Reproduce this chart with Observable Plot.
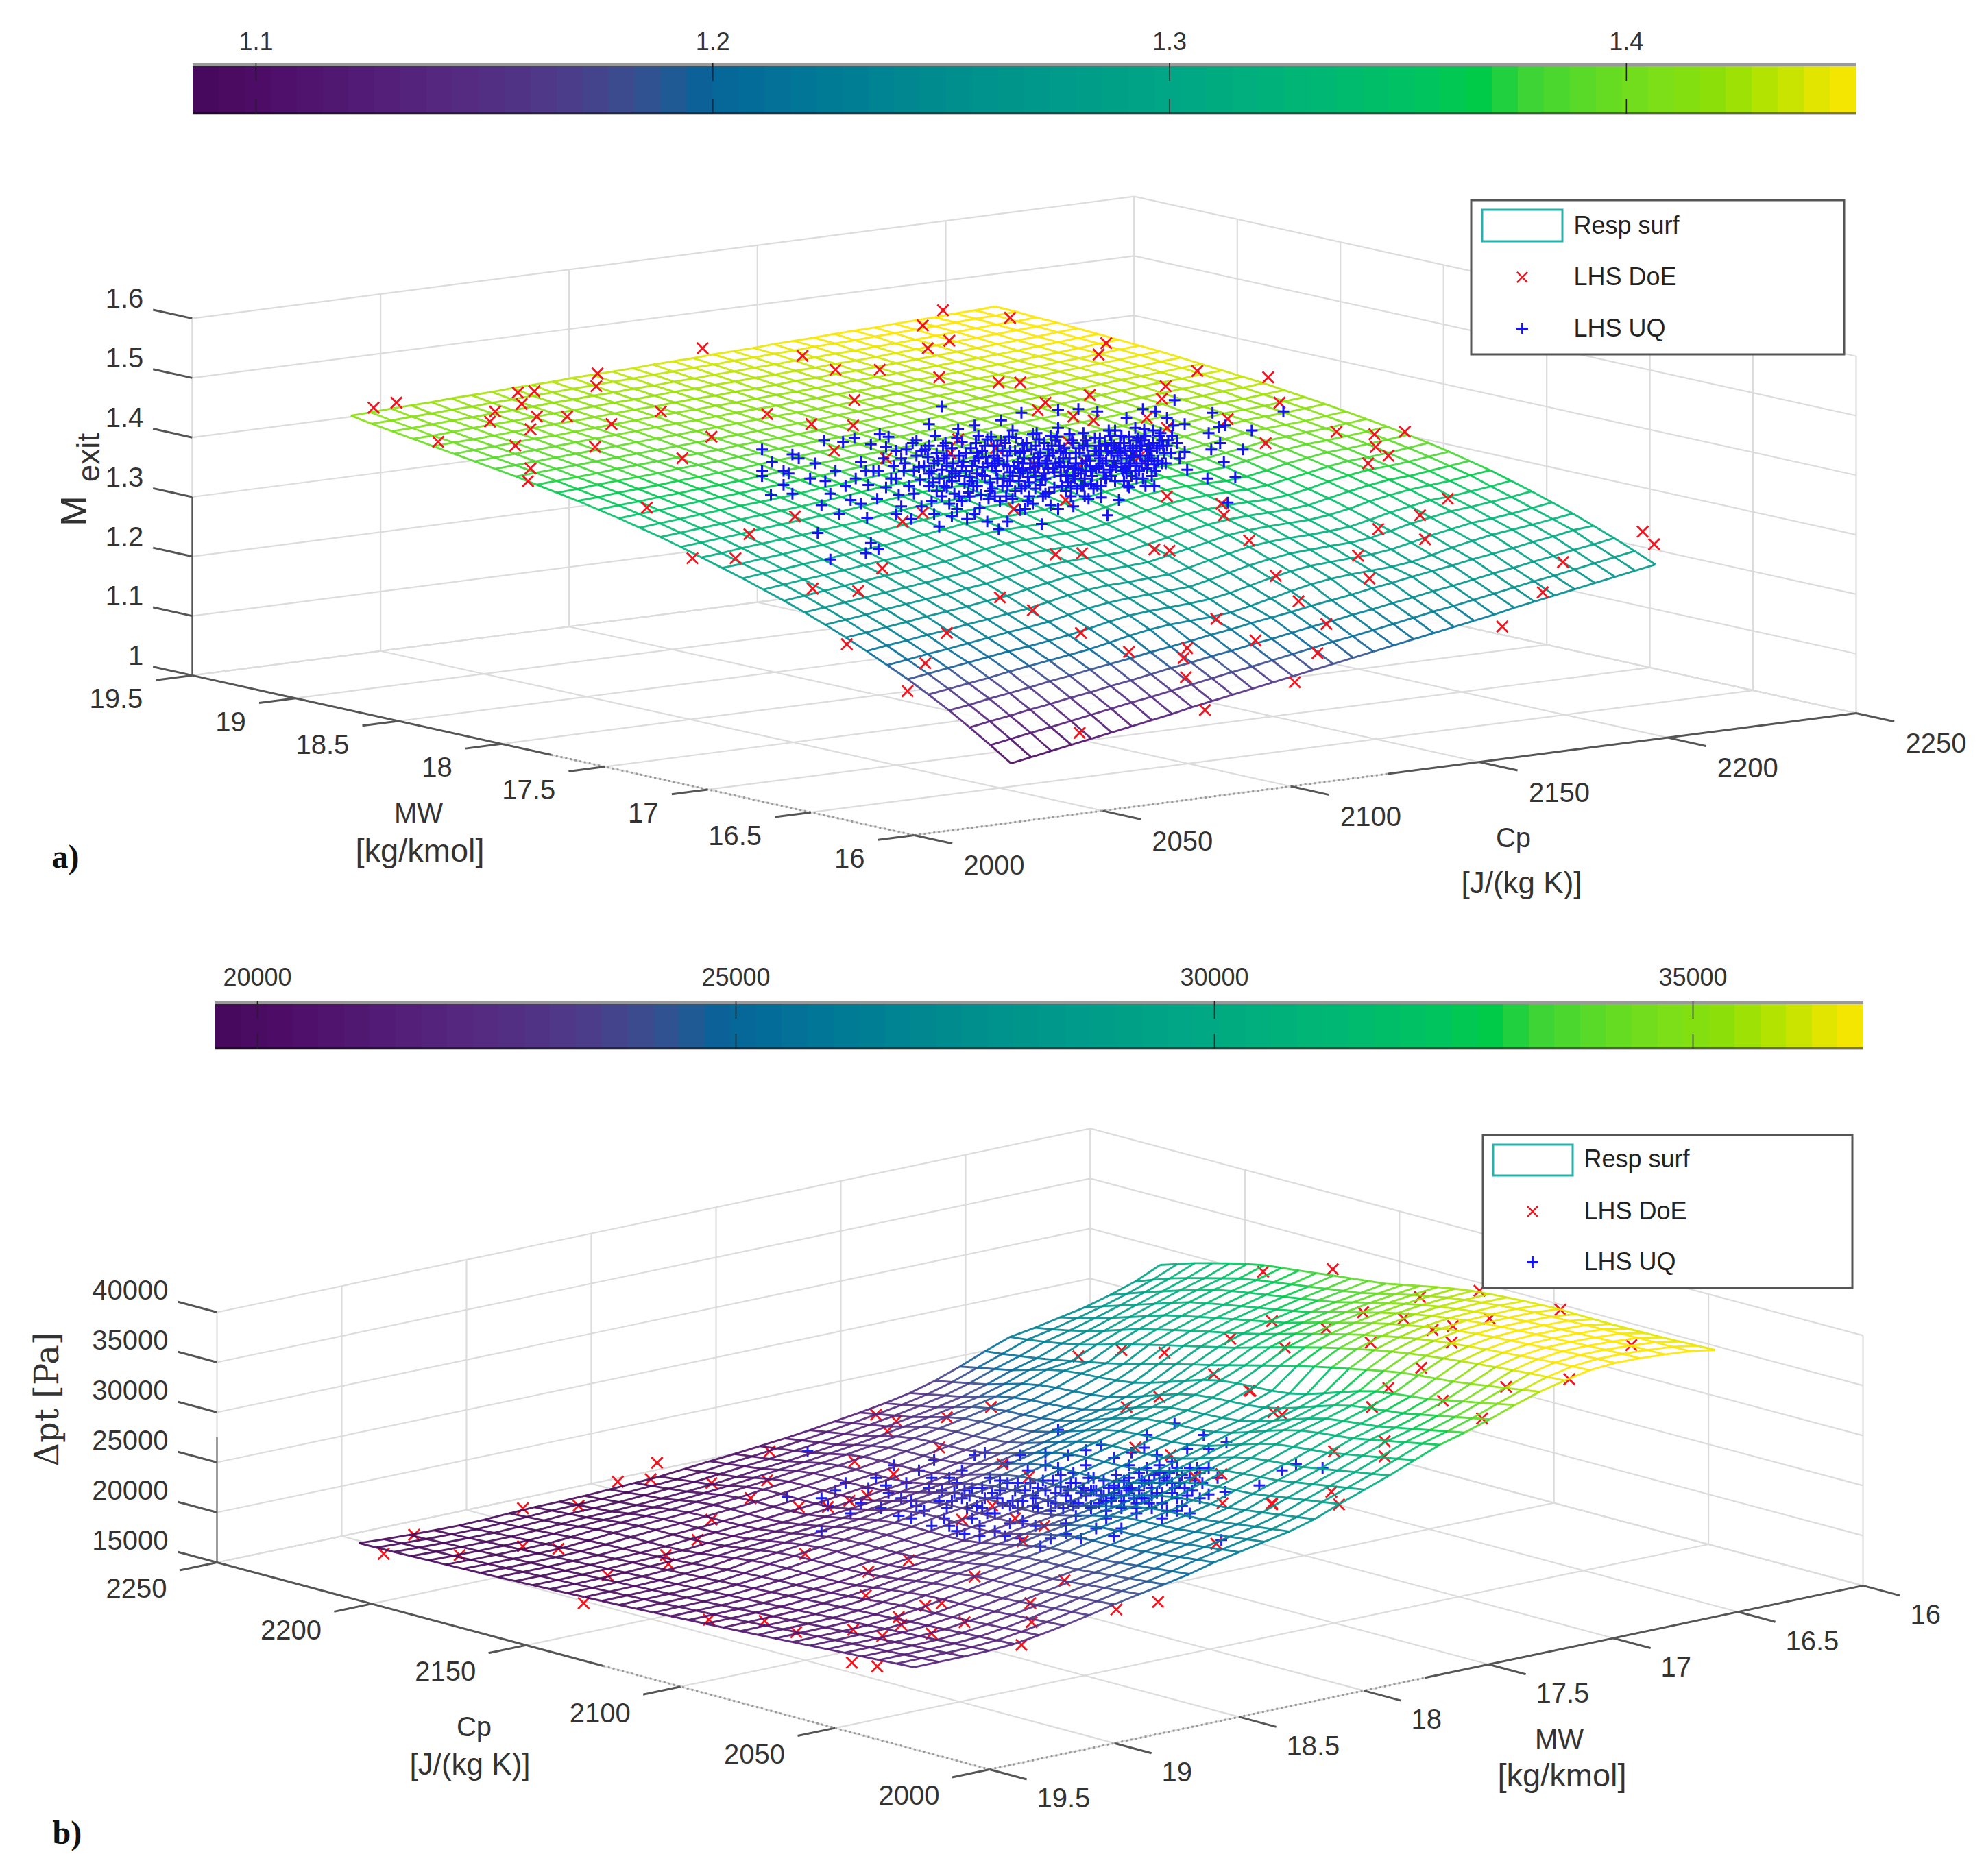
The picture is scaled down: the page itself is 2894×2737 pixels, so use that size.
<!DOCTYPE html>
<html><head><meta charset="utf-8">
<script src="https://cdn.jsdelivr.net/npm/d3@7"></script>
<script src="https://cdn.jsdelivr.net/npm/@observablehq/plot@0.6"></script>
<style>html,body{margin:0;background:#fff}svg{display:block}</style>
</head><body><div id="app"></div>
<script>
const cpTicks=[2000,2050,2100,2150,2200,2250];
const mwTicks=[16,16.5,17,17.5,18,18.5,19,19.5];
const exitTicks=[1,1.1,1.2,1.3,1.4,1.5,1.6];
const dptTicks=[15000,20000,25000,30000,35000,40000];
const exitBarTicks=[1.1,1.2,1.3,1.4];
const dptBarTicks=[20000,25000,30000,35000];
const legendNames=["Resp surf","LHS DoE","LHS UQ"];
const mapStops=[0,.05,.15,.22,.27,.31,.38,.45,.52,.6,.68,.74,.778,.797,.83,.88,.92,.95,.975,1];
const mapColors=["#46085a","#4f0f6a","#55277f","#4e3a89","#35508f","#07649a","#007a96","#008d8d","#009a8a","#00a884","#00b873","#00c45e","#00cc46","#38d33a","#55d82a","#7adf18","#90df08","#b8e400","#e0e500","#fde600"];

// Mexit x 1000, rows: MW low to high, columns: Cp low to high
const exitRows=[
[1079,1085,1091,1097,1103,1109,1115,1121,1127,1134,1140,1146,1152,1158,1164,1170,1176,1182,1188,1194,1200,1206,1212,1218,1224,1231,1237,1243,1249,1255,1261,1267,1273],
[1102,1108,1114,1119,1125,1131,1137,1143,1148,1154,1160,1166,1172,1177,1183,1189,1195,1201,1206,1212,1218,1224,1230,1235,1241,1247,1253,1259,1264,1270,1276,1282,1288],
[1124,1130,1135,1141,1146,1152,1157,1163,1168,1174,1180,1185,1191,1196,1202,1207,1213,1219,1224,1230,1235,1241,1246,1252,1257,1263,1269,1274,1280,1285,1291,1296,1302],
[1145,1150,1156,1161,1166,1172,1177,1183,1188,1193,1199,1204,1209,1215,1220,1226,1231,1236,1242,1247,1252,1258,1263,1269,1274,1279,1285,1290,1295,1301,1306,1312,1315],
[1164,1169,1174,1179,1185,1190,1195,1200,1205,1212,1219,1225,1229,1231,1233,1236,1243,1251,1259,1266,1271,1274,1276,1278,1282,1289,1297,1304,1310,1314,1318,1323,1328],
[1182,1187,1192,1197,1202,1207,1211,1216,1221,1228,1235,1241,1244,1246,1248,1251,1257,1265,1273,1280,1285,1287,1289,1291,1295,1302,1310,1316,1322,1325,1329,1334,1339],
[1198,1203,1208,1212,1217,1222,1227,1231,1236,1243,1250,1255,1258,1260,1262,1264,1271,1279,1287,1293,1298,1300,1302,1303,1307,1314,1322,1328,1334,1337,1341,1345,1350],
[1214,1219,1223,1228,1232,1237,1241,1246,1250,1257,1264,1269,1272,1273,1275,1277,1284,1292,1299,1306,1310,1312,1313,1315,1318,1325,1333,1339,1345,1347,1351,1355,1360],
[1229,1233,1238,1242,1247,1251,1255,1260,1264,1271,1277,1283,1285,1286,1288,1290,1297,1304,1311,1318,1322,1324,1325,1326,1330,1336,1344,1350,1355,1358,1361,1366,1370],
[1243,1247,1251,1256,1260,1264,1268,1273,1277,1283,1289,1294,1297,1298,1299,1301,1308,1315,1322,1328,1332,1334,1335,1336,1339,1346,1353,1359,1364,1366,1370,1374,1378],
[1256,1260,1264,1268,1272,1276,1280,1284,1288,1295,1301,1306,1308,1309,1310,1312,1318,1325,1332,1338,1342,1344,1345,1345,1348,1354,1362,1368,1373,1375,1378,1382,1386],
[1268,1272,1276,1280,1284,1288,1291,1295,1299,1305,1311,1316,1318,1319,1320,1322,1327,1334,1341,1347,1351,1353,1354,1354,1357,1363,1369,1375,1380,1382,1385,1389,1393],
[1279,1283,1287,1290,1294,1298,1302,1305,1309,1315,1321,1325,1327,1328,1329,1330,1336,1343,1350,1355,1359,1361,1361,1361,1364,1370,1377,1382,1387,1389,1392,1395,1399],
[1290,1294,1297,1301,1304,1308,1312,1315,1319,1324,1329,1334,1335,1337,1338,1340,1346,1351,1357,1362,1366,1368,1368,1370,1372,1378,1384,1389,1393,1395,1398,1401,1405],
[1300,1303,1307,1310,1314,1317,1321,1324,1328,1333,1337,1342,1343,1345,1346,1348,1353,1358,1364,1369,1373,1374,1375,1376,1379,1384,1389,1395,1398,1401,1403,1407,1410],
[1310,1313,1317,1320,1323,1326,1330,1333,1336,1342,1346,1350,1351,1353,1354,1355,1360,1366,1371,1376,1380,1381,1381,1382,1385,1390,1395,1401,1404,1406,1408,1412,1415],
[1320,1323,1326,1329,1333,1336,1339,1342,1345,1349,1353,1357,1360,1361,1362,1364,1368,1373,1378,1382,1386,1387,1388,1390,1392,1396,1401,1405,1410,1412,1414,1417,1420],
[1329,1332,1335,1338,1341,1344,1347,1350,1353,1357,1361,1365,1367,1368,1369,1371,1375,1379,1384,1388,1391,1392,1393,1395,1397,1401,1406,1410,1414,1416,1418,1421,1424],
[1337,1340,1343,1346,1349,1352,1354,1357,1360,1364,1367,1370,1373,1375,1376,1378,1381,1385,1389,1393,1396,1398,1399,1401,1403,1406,1410,1414,1418,1420,1422,1425,1428],
[1345,1348,1350,1353,1356,1359,1361,1364,1367,1370,1373,1376,1379,1381,1383,1384,1387,1391,1395,1398,1401,1403,1404,1406,1408,1411,1415,1419,1422,1424,1427,1429,1432],
[1352,1355,1357,1360,1362,1365,1367,1370,1373,1376,1379,1382,1384,1386,1388,1390,1392,1396,1399,1402,1405,1407,1409,1411,1413,1416,1419,1422,1425,1428,1430,1433,1435],
[1359,1361,1364,1366,1368,1371,1373,1376,1378,1381,1384,1386,1389,1391,1393,1395,1397,1400,1403,1406,1409,1411,1413,1415,1417,1420,1423,1426,1429,1431,1433,1436,1438],
[1365,1367,1370,1372,1374,1376,1379,1381,1383,1386,1388,1391,1393,1395,1397,1399,1402,1404,1407,1410,1412,1415,1417,1419,1421,1423,1426,1429,1432,1434,1436,1439,1441],
[1371,1373,1375,1377,1380,1382,1384,1386,1388,1390,1393,1395,1397,1399,1401,1404,1406,1408,1411,1413,1416,1418,1420,1422,1424,1427,1429,1432,1434,1437,1439,1442,1444],
[1377,1379,1381,1383,1385,1387,1389,1391,1393,1395,1397,1399,1401,1403,1405,1407,1410,1412,1414,1416,1419,1421,1423,1425,1427,1430,1432,1435,1437,1440,1442,1445,1447],
[1382,1384,1386,1388,1390,1392,1394,1396,1398,1400,1402,1404,1406,1408,1410,1411,1413,1415,1417,1419,1421,1423,1425,1427,1429,1431,1434,1436,1439,1441,1444,1447,1449],
[1387,1389,1391,1393,1395,1397,1399,1401,1403,1405,1407,1408,1410,1412,1414,1415,1417,1419,1421,1422,1424,1426,1428,1430,1432,1434,1436,1438,1441,1443,1446,1449,1451],
[1392,1394,1396,1398,1400,1401,1403,1405,1407,1409,1411,1413,1414,1416,1417,1419,1421,1422,1424,1426,1428,1429,1431,1433,1435,1437,1439,1441,1443,1446,1448,1451,1453],
[1397,1399,1400,1402,1404,1406,1408,1409,1411,1413,1415,1416,1418,1420,1421,1423,1424,1426,1428,1429,1431,1432,1434,1436,1438,1440,1442,1444,1446,1448,1450,1453,1455],
[1402,1403,1405,1407,1409,1410,1412,1414,1415,1417,1419,1420,1422,1424,1425,1427,1428,1430,1431,1433,1434,1436,1437,1439,1441,1443,1445,1447,1449,1451,1453,1455,1457],
[1407,1408,1410,1412,1413,1415,1416,1418,1420,1421,1423,1424,1426,1427,1429,1430,1432,1433,1435,1436,1438,1439,1441,1442,1444,1445,1447,1449,1451,1453,1455,1456,1458],
[1412,1413,1415,1416,1418,1419,1421,1422,1424,1425,1427,1428,1430,1431,1433,1434,1436,1437,1439,1440,1442,1443,1445,1446,1447,1449,1450,1452,1453,1455,1457,1458,1460],
[1418,1419,1421,1422,1423,1425,1426,1427,1429,1430,1431,1433,1434,1435,1436,1438,1439,1440,1442,1443,1444,1446,1447,1448,1450,1451,1452,1454,1455,1456,1458,1459,1461]];

// dpt in tens of Pa, rows: MW low to high, columns: Cp low to high
const dptRows=[
[3650,3645,3640,3635,3632,3630,3630,3632,3636,3640,3635,3628,3618,3606,3590,3565,3535,3500,3465,3430,3410,3390,3372,3350,3330,3310,3290,3255,3215,3170,3125,3070,3014],
[3690,3688,3686,3684,3680,3676,3672,3668,3664,3660,3650,3636,3620,3600,3575,3545,3510,3470,3430,3390,3365,3340,3315,3290,3265,3240,3210,3165,3120,3075,3025,2965,2900],
[3710,3708,3705,3700,3695,3688,3682,3676,3670,3660,3645,3628,3608,3585,3555,3520,3480,3438,3396,3352,3322,3294,3266,3240,3212,3184,3150,3100,3050,2995,2940,2880,2820],
[3725,3722,3717,3710,3702,3693,3685,3677,3668,3655,3637,3615,3590,3560,3525,3485,3440,3395,3350,3303,3270,3238,3208,3178,3147,3115,3078,3025,2970,2915,2860,2805,2750],
[3730,3725,3718,3708,3697,3686,3675,3664,3650,3633,3610,3583,3552,3517,3478,3435,3390,3345,3298,3250,3215,3180,3147,3112,3077,3040,3000,2945,2890,2835,2785,2740,2700],
[3710,3703,3694,3682,3668,3654,3640,3625,3607,3586,3560,3530,3496,3460,3420,3375,3330,3285,3238,3190,3150,3112,3075,3037,2998,2957,2915,2860,2805,2755,2715,2680,2650],
[3660,3650,3638,3624,3608,3592,3575,3557,3537,3513,3485,3453,3418,3380,3340,3295,3250,3203,3155,3105,3065,3025,2985,2945,2903,2860,2815,2765,2720,2685,2655,2630,2610],
[3600,3573,3546,3520,3494,3470,3455,3440,3420,3390,3355,3320,3285,3248,3208,3165,3120,3075,3030,2985,2945,2900,2855,2810,2765,2725,2690,2655,2620,2590,2565,2540,2520],
[3520,3486,3451,3417,3382,3348,3329,3309,3285,3240,3186,3127,3072,3033,3013,3004,2995,2975,2936,2881,2822,2768,2723,2699,2684,2675,2656,2621,2572,2522,2488,2454,2420],
[3430,3396,3361,3327,3292,3258,3239,3219,3195,3151,3096,3037,2983,2943,2924,2914,2905,2886,2846,2792,2733,2678,2634,2609,2595,2586,2566,2532,2483,2433,2399,2364,2330],
[3350,3316,3282,3248,3214,3180,3161,3142,3118,3073,3019,2960,2906,2867,2848,2839,2830,2811,2772,2718,2659,2605,2561,2537,2523,2514,2494,2460,2411,2362,2328,2294,2260],
[3280,3247,3213,3180,3146,3113,3094,3076,3052,3009,2956,2897,2844,2805,2787,2778,2770,2752,2713,2660,2601,2548,2504,2481,2467,2459,2441,2407,2359,2310,2277,2243,2210],
[3180,3148,3117,3085,3054,3022,3006,2989,2968,2926,2874,2818,2766,2730,2713,2707,2700,2683,2647,2595,2539,2487,2446,2424,2413,2406,2389,2358,2311,2265,2233,2202,2170],
[3080,3050,3021,2991,2962,2932,2918,2903,2884,2844,2795,2740,2691,2656,2642,2637,2633,2618,2583,2534,2479,2430,2390,2371,2361,2357,2342,2313,2268,2224,2194,2165,2135],
[2990,2962,2934,2907,2879,2851,2838,2825,2808,2770,2722,2669,2621,2589,2576,2573,2570,2557,2524,2477,2424,2376,2338,2320,2313,2310,2297,2269,2226,2184,2156,2128,2100],
[2900,2874,2848,2822,2796,2770,2759,2748,2732,2697,2651,2600,2554,2523,2512,2511,2510,2499,2468,2422,2371,2325,2289,2273,2267,2266,2256,2230,2189,2148,2122,2096,2070],
[2800,2776,2753,2729,2706,2682,2673,2665,2651,2618,2574,2525,2482,2453,2445,2446,2448,2439,2410,2367,2318,2275,2241,2228,2224,2225,2217,2193,2155,2116,2092,2069,2045],
[2730,2708,2686,2663,2641,2619,2612,2605,2593,2560,2518,2471,2429,2402,2394,2397,2400,2393,2366,2323,2276,2234,2202,2190,2188,2190,2183,2161,2124,2087,2064,2042,2020],
[2680,2659,2637,2616,2595,2574,2567,2561,2550,2519,2478,2431,2390,2364,2357,2361,2365,2359,2333,2291,2245,2204,2172,2161,2160,2164,2158,2136,2100,2064,2042,2021,2000],
[2630,2610,2589,2569,2548,2528,2522,2517,2506,2476,2435,2390,2349,2324,2318,2323,2327,2322,2297,2256,2211,2170,2140,2129,2129,2133,2128,2107,2072,2036,2016,1995,1975],
[2580,2560,2541,2521,2502,2482,2477,2473,2463,2434,2394,2350,2310,2285,2281,2286,2292,2287,2262,2223,2178,2139,2109,2099,2100,2105,2101,2081,2046,2012,1992,1972,1952],
[2515,2497,2479,2461,2443,2425,2419,2413,2403,2377,2343,2305,2271,2249,2243,2245,2247,2241,2219,2186,2148,2114,2088,2078,2076,2078,2072,2054,2024,1994,1976,1958,1940],
[2465,2448,2431,2415,2398,2381,2376,2371,2363,2338,2305,2268,2236,2215,2210,2213,2217,2212,2191,2158,2121,2089,2064,2055,2054,2057,2053,2036,2007,1978,1962,1945,1928],
[2420,2404,2389,2373,2357,2341,2335,2328,2318,2297,2269,2238,2210,2192,2185,2184,2184,2177,2158,2130,2100,2072,2050,2041,2037,2036,2029,2014,1989,1964,1948,1933,1917],
[2370,2356,2341,2327,2313,2298,2293,2288,2279,2259,2233,2203,2177,2160,2154,2155,2156,2150,2133,2107,2077,2051,2031,2022,2020,2021,2015,2001,1978,1954,1940,1926,1911],
[2315,2302,2290,2277,2264,2252,2247,2241,2233,2216,2193,2167,2145,2130,2125,2125,2124,2119,2105,2082,2056,2034,2016,2008,2006,2006,2000,1988,1968,1947,1935,1922,1909],
[2265,2254,2242,2231,2219,2208,2205,2200,2194,2177,2156,2132,2110,2097,2093,2094,2095,2091,2078,2056,2032,2011,1994,1988,1986,1988,1984,1972,1954,1934,1923,1911,1900],
[2220,2210,2199,2189,2179,2168,2162,2156,2148,2133,2115,2100,2088,2078,2072,2069,2062,2052,2040,2024,2008,1996,1985,1977,1972,1967,1960,1948,1935,1921,1911,1900,1890],
[2185,2176,2166,2157,2147,2138,2129,2119,2110,2100,2091,2082,2072,2063,2053,2044,2035,2025,2016,2006,1997,1987,1978,1969,1959,1950,1940,1931,1922,1912,1903,1893,1884],
[2170,2160,2150,2141,2131,2121,2111,2101,2092,2082,2072,2063,2054,2045,2036,2027,2018,2009,2001,1993,1985,1977,1969,1961,1953,1945,1937,1929,1921,1913,1905,1896,1888],
[2165,2155,2145,2135,2125,2115,2105,2095,2085,2075,2065,2056,2047,2038,2029,2020,2011,2003,1995,1987,1979,1971,1963,1956,1949,1942,1935,1928,1921,1914,1908,1901,1895],
[2164,2154,2144,2133,2123,2113,2103,2093,2083,2073,2063,2053,2044,2035,2026,2017,2008,2000,1992,1984,1976,1969,1962,1955,1949,1943,1937,1931,1925,1920,1915,1910,1905],
[2164,2153,2143,2132,2122,2111,2101,2090,2080,2070,2060,2050,2041,2032,2023,2014,2005,1997,1990,1983,1976,1969,1963,1957,1951,1946,1941,1936,1932,1928,1924,1921,1918]];

// marker readings on the picture plane (x,y pairs in 1568-wide view units)
const doeA=[745,245,798,251,729,257,750,269,733,275,555,275,634,281,660,292,695,292,742,298,789,302,806,302,868,280,874,271,946,293,1002,298,921,305,861,312,918,315,675,316,606,327,641,335,674,336,562,345,1011,318,820,324,826,318,848,329,864,332,906,330,922,338,970,331,757,347,659,356,751,358,787,354,844,349,700,362,817,367,857,365,900,361,1000,350,842,395,922,392,965,398,967,407,801,402,729,405,713,412,628,408,592,422,547,441,581,441,697,449,834,438,855,437,912,434,924,435,987,427,1008,455,642,465,678,467,790,472,816,482,
295,322,313,318,409,310,422,309,412,319,391,325,387,333,424,329,448,329,419,339,483,335,472,295,471,305,522,325,346,349,407,352,470,353,419,370,417,380,511,401,539,362,
1056,341,1086,343,1110,341,1087,353,1097,360,1081,366,1144,394,1122,407,1089,418,1126,426,1073,439,1082,457,1235,444,1219,468,1298,420,1307,430,1026,475,1048,493,1187,495,
961,489,854,500,892,515,938,512,935,520,992,506,1041,516,937,535,1023,539,952,561,853,579,748,500,669,509,731,524,717,546];
const uqA=[744,321,928,316,1014,325,958,326,989,340,964,350,982,355,957,355,955,342,963,337,968,336,967,365,976,377,954,378,938,371,936,357,936,335,922,330,913,325,903,323,890,330,867,325,852,323,836,324,807,326,791,332,770,336,734,335,695,343,675,346,651,348,666,349,602,355,626,359,631,362,610,365,602,372,602,376,619,372,623,374,619,383,609,391,626,390,649,399,663,406,685,409,646,421,688,429,694,434,684,437,656,442,789,418,823,414,764,410,796,412,875,407,912,384,892,385,970,397,
690,372,702,345,708,356,715,366,721,350,727,379,733,361,739,344,744,371,748,385,752,354,757,339,761,365,766,377,771,350,775,391,779,361,783,345,787,372,792,356,796,384,800,340,804,365,808,351,812,377,816,343,820,361,824,392,828,355,832,370,836,338,840,362,844,381,848,350,852,371,856,342,860,360,864,386,868,352,872,373,876,340,880,364,884,354,888,380,892,345,896,361,900,372,904,339,908,351,912,367,916,344,920,358,680,365,686,383,693,394,698,362,704,378,710,391,716,355,722,372,728,400,734,352,740,388,746,362,750,398,755,374,760,349,765,389,770,364,774,401,778,352,782,381,786,366,790,396,794,350,798,373,802,388,806,358,810,402,814,370,818,352,822,383,826,366,830,399,834,348,838,376,842,358,846,392,850,366,854,384,858,348,862,372,866,356,870,393,874,378,878,350,882,369,886,344,890,362,894,376,898,348,902,366,906,355,910,376,918,348,926,344,932,362,930,350,688,351,694,372,700,385,706,368,712,400,718,384,724,360,730,368,736,396,742,378,747,350,753,366,758,392,763,358,768,380,773,344,777,369,781,394,785,352,789,364,793,378,797,345,801,368,805,380,809,356,813,392,817,362,821,347,825,374,829,360,833,385,837,352,841,369,845,343,849,378,853,358,857,392,861,368,865,346,869,362,873,351,877,371,881,340,885,358,889,370,893,352,897,338,901,352,905,364,911,340,700,353,712,362,724,348,736,372,748,360,760,368,772,358,784,368,796,360,808,372,820,368,832,358,844,368,856,352,868,368,880,352,892,368,904,348,916,352,676,378,684,372,668,384,660,372,652,380,644,366,640,378,656,390,672,395,680,398,708,406,720,410,738,406,752,408,742,416,756,402,770,406,780,412,806,403,816,398,836,402,848,400,860,394,884,395,898,378,905,384,
726,369,731,355,737,381,741,364,745,352,750,377,754,390,758,360,763,372,767,354,769,384,773,362,776,375,780,347,782,388,785,360,788,378,791,348,793,367,795,392,798,356,800,376,803,346,805,370,807,386,809,362,811,350,813,381,815,355,817,373,819,342,821,366,823,379,825,350,827,364,829,389,831,352,833,373,835,345,837,365,839,384,841,354,843,375,845,362,847,348,849,370,851,386,853,354,855,366,857,378,859,352,861,364,863,376,865,356,867,384,869,346,871,366,873,378,875,356,877,344,879,368,881,380,883,360,885,350,887,372,889,356,891,384,893,366,895,354,897,372,899,346,901,360,903,378,905,344,907,364,909,356,911,350,913,372,915,364,917,342,919,352,921,366,923,348,925,358,927,336,
728,356,734,374,740,358,746,384,752,372,756,346,762,382,766,392,772,374,776,356,780,366,784,386,788,352,792,384,796,368,802,356,806,374,810,384,814,366,818,386,822,358,826,378,830,344,834,366,838,356,842,376,846,384,850,358,854,374,858,364,862,382,866,370,870,356,874,364,878,376,882,354,886,366,890,374,894,360,898,368,902,352,906,370,910,362,914,354,918,366,922,352,
738,366,748,368,758,376,768,368,778,376,788,362,798,380,808,366,818,376,828,370,838,368,848,376,858,372,868,360,878,358,888,350,898,356,908,360,
760,396,772,384,786,392,800,394,812,396,826,390,842,388,856,384,870,384,752,380,744,392,734,384,722,390,714,372,708,378];
const doeB=[852,1072,886,1067,920,1069,1015,1065,972,1058,916,1104,890,1112,987,1099,959,1086,1006,1116,783,1112,748,1120,692,1118,708,1123,701,1131,608,1147,675,1155,606,1170,706,1165,897,1144,925,1150,944,1167,965,1165,1005,1188,966,1188,784,1190,760,1201,802,1200,825,1206,813,1167,792,1157,742,1144,631,1191,654,1191,671,1186,685,1182,636,1228,718,1233,686,1242,684,1261,731,1269,744,1267,710,1278,712,1284,629,1290,674,1288,697,1293,736,1291,604,1281,815,1282,807,1300,882,1272,915,1266,961,1220,808,1218,770,1246,841,1249,814,1267,762,1282,673,1314,693,1317,
1053,1003,998,1005,1122,1025,1169,1020,1233,1035,1077,1037,1005,1044,1048,1050,1109,1042,1132,1051,1148,1048,1177,1042,1147,1061,1083,1061,1289,1063,1123,1081,1240,1090,1190,1096,1097,1097,1140,1107,1084,1112,988,1099,1013,1118,1171,1121,1094,1139,1094,1151,1054,1147,1052,1179,1058,1189,1005,1189,
519,1156,488,1171,514,1169,562,1172,413,1192,457,1190,593,1184,562,1201,327,1213,303,1228,363,1229,413,1222,441,1224,551,1217,526,1229,528,1236,480,1245,461,1267,560,1280];
const uqB=[638,1147,622,1183,649,1184,649,1210,928,1125,836,1130,951,1134,906,1134,969,1140,955,1145,995,1174,968,1179,955,1181,1013,1162,1024,1157,1045,1160,965,1217,
654,1190,660,1178,668,1172,672,1196,680,1188,686,1176,692,1168,696,1192,702,1180,706,1158,710,1198,716,1172,720,1186,726,1162,730,1194,734,1176,738,1154,742,1186,746,1200,750,1168,754,1180,756,1210,760,1162,764,1192,768,1176,770,1150,774,1206,778,1184,782,1168,786,1196,790,1178,794,1214,796,1156,800,1186,804,1172,808,1202,812,1162,816,1190,820,1176,822,1222,826,1148,830,1194,834,1180,838,1166,842,1204,846,1186,850,1172,854,1216,858,1158,862,1192,866,1178,870,1142,874,1200,878,1184,882,1166,886,1208,890,1176,894,1148,898,1192,902,1170,906,1160,910,1182,914,1150,918,1200,922,1170,926,1155,930,1184,934,1166,938,1145,942,1178,946,1160,950,1172,955,1160,962,1168,
700,1174,712,1184,724,1190,736,1168,748,1192,760,1184,772,1190,784,1180,796,1172,808,1186,820,1192,832,1170,844,1178,856,1176,868,1188,880,1174,892,1178,904,1184,916,1172,928,1176,940,1168,744,1178,756,1172,768,1200,780,1196,792,1188,804,1192,816,1182,828,1186,840,1192,852,1188,864,1168,876,1176,888,1170,900,1178,912,1166,924,1164,936,1176,948,1184,
838,1175,846,1172,854,1180,862,1178,870,1182,878,1186,886,1182,894,1176,902,1184,910,1176,918,1180,926,1180,934,1190,850,1198,874,1194,898,1196,922,1194,940,1196,786,1210,798,1204,806,1216,818,1206,830,1216,842,1212,866,1208,880,1214,750,1206,762,1212,774,1214,736,1206,720,1200,778,1148,806,1150,826,1158,844,1150,858,1146,880,1152,892,1158,904,1144,916,1158,
752,1186,766,1182,776,1192,788,1184,798,1190,810,1178,818,1184,826,1178,834,1188,842,1182,848,1190,858,1182,864,1178,872,1170,880,1180,888,1186,896,1184,904,1172,908,1188,914,1180,920,1168,926,1172,932,1172,938,1182,944,1170,948,1164,824,1170,836,1160,848,1164,860,1168,872,1182,884,1176,892,1168,900,1164,908,1170,916,1164,930,1160,940,1160,862,1190,874,1186,886,1192,898,1188,910,1192,918,1188,930,1194,790,1170,802,1178,814,1172,776,1176,762,1178];

const V=2894/1568;
const v=p=>p/V;
const pairs=a=>d3.range(0,a.length,2).map(i=>({x:a[i],y:a[i+1]}));
const seg=(p,q)=>({x1:p[0],y1:p[1],x2:q[0],y2:q[1]});
const ink="#333";

function panel(c){
  const P=c.project, W=c.zTicks, zLo=W[0], zHi=W[W.length-1];
  const cpLo=2000,cpHi=2250,mwLo=16,mwHi=19.5;
  const grid=[];
  for(const cp of cpTicks){
    grid.push(seg(P(cp,mwLo,zLo),P(cp,mwHi,zLo)));
    grid.push(seg(P(cp,c.wallMw,zLo),P(cp,c.wallMw,zHi)));
  }
  for(const mw of mwTicks){
    grid.push(seg(P(cpLo,mw,zLo),P(cpHi,mw,zLo)));
    grid.push(seg(P(cpHi,mw,zLo),P(cpHi,mw,zHi)));
  }
  for(const z of W){
    grid.push(seg(P(cpLo,c.wallMw,z),P(cpHi,c.wallMw,z)));
    grid.push(seg(P(cpHi,mwLo,z),P(cpHi,mwHi,z)));
  }
  const solid=[...c.solidAxes.map(([a,b])=>seg(P(...a),P(...b)))];
  const dotted=c.dottedAxes.map(([a,b])=>seg(P(...a),P(...b)));
  const ticks=[
    ...mwTicks.map(m=>seg(P(cpLo,m,zLo),P(cpLo+c.mwTick,m,zLo))),
    ...cpTicks.map(k=>seg(P(k,c.cpAxisMw,zLo),P(k,c.cpAxisMw+c.cpTick,zLo))),
    ...W.map(z=>seg(P(c.zAt[0],c.zAt[1],z),P(c.zAt[0]+c.zTick[0],c.zAt[1]+c.zTick[1],z)))
  ];
  // surface
  const n=c.rows.length,cpAt=i=>c.cpRange[0]+(c.cpRange[1]-c.cpRange[0])*i/(n-1),mwAt=j=>c.mwRange[0]+(c.mwRange[1]-c.mwRange[0])*j/(n-1);
  const Z=(j,i)=>c.rows[j][i]*c.unit;
  const pt=(j,i)=>P(cpAt(i),mwAt(j),Z(j,i));
  const bands=[],links=[];
  const order=c.backToFront?d3.range(n-1):d3.range(n-2,-1,-1);
  for(const j of order){
    for(let i=0;i<n;i++){
      const a=pt(j,i),b=pt(j+1,i);
      bands.push({k:j,x1:a[0],y1:a[1],x2:b[0],y2:b[1]});
    }
  }
  for(let j=0;j<n;j++)for(let i=0;i<n;i++){
    if(i<n-1)links.push({...seg(pt(j,i),pt(j,i+1)),z:(Z(j,i)+Z(j,i+1))/2});
    if(j<n-1)links.push({...seg(pt(j,i),pt(j+1,i)),z:(Z(j,i)+Z(j+1,i))/2});
  }
  const [lo,hi]=c.barRange;
  const barX=t=>v(c.barX0+(t-lo)*c.barPx);
  const cells=d3.range(64).map(i=>({a:lo+(hi-lo)*i/64,b:lo+(hi-lo)*(i+1)/64,m:lo+(hi-lo)*(i+.5)/64}));
  const B=c.barY;
  const L=c.legend;
  const txt=(s,px,py,o={})=>Plot.text([s],{x:()=>v(px),y:()=>v(py),text:d=>d,fill:ink,fontSize:44,...o});
  const tickText=(vals,f,o)=>Plot.text(vals,{x:d=>f(d)[0],y:d=>f(d)[1],text:d=>String(d),fill:ink,fontSize:40,...o});
  const gridMark=Plot.link(grid,{x1:"x1",y1:"y1",x2:"x2",y2:"y2",stroke:"#dcdcdc",strokeWidth:2.2});
  const bandMark=Plot.area(bands,{x1:"x1",y1:"y1",x2:"x2",y2:"y2",z:"k",fill:"white",fillOpacity:.82});
  const meshMark=Plot.link(links,{x1:"x1",y1:"y1",x2:"x2",y2:"y2",stroke:"z",strokeWidth:2.9,strokeOpacity:.9});
  const doeMark=Plot.dot(pairs(c.doe),{x:"x",y:"y",symbol:"times",r:7.5,stroke:"#f5141e",strokeWidth:2.8});
  const uqMark=Plot.dot(pairs(c.uq),{x:"x",y:"y",symbol:"plus",r:5.5,stroke:"#1212f5",strokeWidth:3,strokeOpacity:c.uqOpacity});
  return Plot.plot({
    width:2894,height:c.svgH,margin:0,
    style:{background:"white",fontFamily:"'Liberation Sans',Arial,sans-serif"},
    x:{domain:[0,1568],range:[0,2894],axis:null},
    y:{domain:[v(c.y0),v(c.y0+c.svgH)],range:[0,c.svgH],axis:null},
    color:{type:"linear",domain:mapStops.map(t=>lo+t*(hi-lo)),range:mapColors,clamp:true,legend:false},
    marks:[
      gridMark,
      Plot.link(dotted,{x1:"x1",y1:"y1",x2:"x2",y2:"y2",stroke:"#999",strokeWidth:3,strokeDasharray:"3,4"}),
      Plot.link(solid,{x1:"x1",y1:"y1",x2:"x2",y2:"y2",stroke:"#555",strokeWidth:3}),
      Plot.link([seg(P(c.zAt[0],c.zAt[1],zLo),P(c.zAt[0],c.zAt[1],c.zDark))],{x1:"x1",y1:"y1",x2:"x2",y2:"y2",stroke:"#555",strokeWidth:2}),
      Plot.link(ticks,{x1:"x1",y1:"y1",x2:"x2",y2:"y2",stroke:"#555",strokeWidth:3}),
      tickText(mwTicks,m=>P(cpLo,m,zLo),c.mwLabel),
      tickText(cpTicks,k=>P(k,c.cpAxisMw,zLo),c.cpLabel),
      tickText(W,z=>P(c.zAt[0],c.zAt[1],z),{textAnchor:"end",dx:-71,dy:c.zLabelDy}),
      // colour bar
      Plot.rect(cells,{x1:d=>barX(d.a),x2:d=>barX(d.b),y1:()=>v(B),y2:()=>v(B+c.barH),fill:"m",shapeRendering:"crispEdges"}),
      Plot.ruleY([0],{x1:()=>barX(lo),x2:()=>barX(hi),y:()=>v(B+2),stroke:"#9a9a9a",strokeWidth:5}),
      Plot.ruleY([0],{x1:()=>barX(lo),x2:()=>barX(hi),y:()=>v(B+c.barH-1),stroke:"#000",strokeOpacity:.45,strokeWidth:4}),
      Plot.ruleX(c.barTicks,{x:barX,y1:()=>v(B),y2:()=>v(B+26),stroke:"#222",strokeWidth:1.6}),
      Plot.ruleX(c.barTicks,{x:barX,y1:()=>v(B+c.barH-22),y2:()=>v(B+c.barH),stroke:"#222",strokeWidth:1.6}),
      Plot.text(c.barTicks,{x:barX,y:()=>v(B-c.barLabelUp),text:d=>String(d),fill:ink,fontSize:36}),
      // surface
      bandMark,
      ...(c.markersOver?[meshMark,doeMark,uqMark]:[uqMark,doeMark,meshMark]),
      // titles
      ...c.titles.map(t=>txt(...t)),
      // legend
      Plot.rect([0],{x1:()=>v(L.x1),x2:()=>v(L.x2),y1:()=>v(L.y1),y2:()=>v(L.y2),fill:"white",stroke:"#555",strokeWidth:3}),
      Plot.rect([0],{x1:()=>v(L.sx1),x2:()=>v(L.sx2),y1:()=>v(L.sy1),y2:()=>v(L.sy2),fill:"white",stroke:"#24b3ab",strokeWidth:3}),
      Plot.dot([0],{x:()=>v(L.mx),y:()=>v(L.ys[1]),symbol:"times",r:7,stroke:"#f5141e",strokeWidth:2.4}),
      Plot.dot([0],{x:()=>v(L.mx),y:()=>v(L.ys[2]),symbol:"plus",r:5.5,stroke:"#1212f5",strokeWidth:2.8}),
      Plot.text(legendNames,{x:()=>v(L.tx),y:(d,i)=>v(L.ys[i]),text:d=>d,textAnchor:"start",fill:"#222",fontSize:36})
    ]
  });
}

const projA=(cp,mw,z)=>[v(1333+(cp-2000)*5.496-(mw-16)*300.9),v(1218-(cp-2000)*.712-(mw-16)*66.6-(z-1)*868)];
const projB=(cp,mw,z)=>[v(1443-(cp-2000)*4.508+(19.5-mw)*364),v(2581-(cp-2000)*1.208-(19.5-mw)*76.6-(z-15000)*.0146)];

const app=document.getElementById("app");
app.append(panel({
  y0:0,svgH:1370,project:projA,zTicks:exitTicks,rows:exitRows,unit:.001,
  cpRange:[2035,2206],mwRange:[16.17,19.37],backToFront:false,markersOver:true,uqOpacity:1,
  wallMw:19.5,cpAxisMw:16,zAt:[2000,19.5],zDark:1.3,
  mwTick:-9.6,cpTick:-.185,zTick:[0,.19],zLabelDy:-28,
  solidAxes:[[[2000,19.5,1],[2000,17.76,1]],[[2125.7,16,1],[2250,16,1]]],
  dottedAxes:[[[2000,17.76,1],[2000,16,1]],[[2000,16,1],[2125.7,16,1]]],
  mwLabel:{textAnchor:"end",dx:-72,dy:35},cpLabel:{textAnchor:"start",dx:72,dy:45},
  barRange:[1.0862,1.4503],barX0:281,barPx:6663,barY:92,barH:74,barLabelUp:31,barTicks:exitBarTicks,
  doe:doeA,uq:uqA,
  titles:[
    ["M",108,745,{rotate:-90,fontSize:54}],["exit",130,667,{rotate:-90,fontSize:46}],
    ["MW",610,1187,{fontSize:40}],["[kg/kmol]",612,1241,{fontSize:47}],
    ["Cp",2207,1223,{fontSize:40}],["[J/(kg K)]",2219,1288,{fontSize:44}],
    ["a)",75,1250,{textAnchor:"start",fontSize:48,fontWeight:"bold",fontFamily:"'Liberation Serif',serif",fill:"#111"}]
  ],
  legend:{x1:2146,x2:2690,y1:292,y2:517,sx1:2162,sx2:2279,sy1:306,sy2:352,mx:2220,tx:2295,ys:[329,404,479]}
}));
app.append(panel({
  y0:1370,svgH:1367,project:projB,zTicks:dptTicks,rows:dptRows,unit:10,
  cpRange:[2035,2214.5],mwRange:[16.16,19.37],backToFront:true,markersOver:false,uqOpacity:.95,
  wallMw:16,cpAxisMw:19.5,zAt:[2250,19.5],zDark:27500,
  mwTick:-12,cpTick:.15,zTick:[12.6,0],zLabelDy:-31,
  solidAxes:[[[2250,19.5,15000],[2125,19.5,15000]],[[2000,17.755,15000],[2000,16,15000]]],
  dottedAxes:[[[2125,19.5,15000],[2000,19.5,15000]],[[2000,19.5,15000],[2000,17.755,15000]]],
  mwLabel:{textAnchor:"start",dx:69,dy:43},cpLabel:{textAnchor:"end",dx:-73,dy:39},
  barRange:[19563,36784],barX0:314,barPx:.1396,barY:1460,barH:70,barLabelUp:34,barTicks:dptBarTicks,
  doe:doeB,uq:uqB,
  titles:[
    ["\u0394pt [Pa]",69,2041,{rotate:-90,fontSize:48,fontFamily:"'DejaVu Serif',serif"}],
    ["Cp",691,2520,{fontSize:40}],["[J/(kg K)]",685,2574,{fontSize:44}],
    ["MW",2274,2538,{fontSize:40}],["[kg/kmol]",2278,2590,{fontSize:47}],
    ["b)",76,2674,{textAnchor:"start",fontSize:48,fontWeight:"bold",fontFamily:"'Liberation Serif',serif",fill:"#111"}]
  ],
  legend:{x1:2163,x2:2702,y1:1656,y2:1879,sx1:2178,sx2:2294,sy1:1670,sy2:1715,mx:2235,tx:2310,ys:[1691,1767,1841]}
}));
</script></body></html>
